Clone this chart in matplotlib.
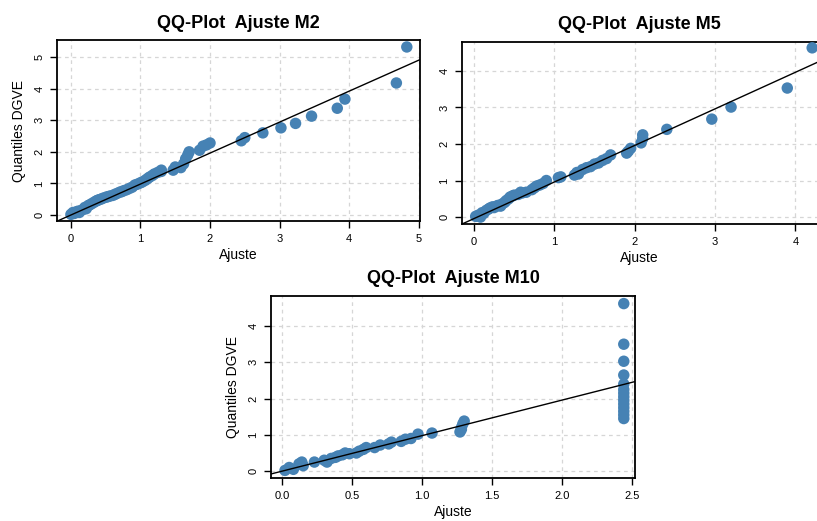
import matplotlib
matplotlib.use("Agg")
import matplotlib.pyplot as plt

plt.rcParams['font.family'] = ['Liberation Sans', 'DejaVu Sans']

# ---- data (x = Ajuste, y = Quantiles DGVE) ----
m2_x = [0.00, 0.03, 0.05, 0.08, 0.10, 0.12, 0.15, 0.18, 0.20, 0.22, 0.25, 0.27,
        0.30, 0.33, 0.36, 0.38, 0.40, 0.43, 0.46, 0.50, 0.53, 0.56, 0.60, 0.63,
        0.66, 0.70, 0.73, 0.76, 0.80, 0.84, 0.88, 0.92, 0.96, 1.00, 1.03, 1.07,
        1.10, 1.13, 1.17, 1.20, 1.25, 1.30, 1.30, 1.47, 1.50, 1.58, 1.62, 1.65,
        1.68, 1.70, 1.85, 1.90, 1.95, 2.00, 2.45, 2.50, 2.76, 3.02, 3.23, 3.46,
        3.83, 3.94, 4.68, 4.83]
m2_y = [0.02, 0.08, 0.05, 0.10, 0.12, 0.08, 0.15, 0.18, 0.24, 0.20, 0.30, 0.32,
        0.36, 0.40, 0.44, 0.46, 0.48, 0.50, 0.53, 0.56, 0.58, 0.60, 0.62, 0.65,
        0.68, 0.72, 0.74, 0.77, 0.80, 0.84, 0.88, 0.95, 0.98, 1.02, 1.05, 1.10,
        1.15, 1.20, 1.25, 1.30, 1.35, 1.38, 1.42, 1.42, 1.52, 1.50, 1.62, 1.78,
        1.90, 2.00, 2.05, 2.18, 2.22, 2.28, 2.35, 2.45, 2.60, 2.76, 2.90, 3.13,
        3.38, 3.67, 4.18, 5.32]

m5_x = [0.02, 0.05, 0.08, 0.10, 0.12, 0.15, 0.18, 0.20, 0.23, 0.25, 0.28, 0.30,
        0.33, 0.35, 0.38, 0.40, 0.43, 0.45, 0.48, 0.50, 0.55, 0.58, 0.60, 0.65,
        0.72, 0.75, 0.78, 0.82, 0.86, 0.90, 1.05, 1.08, 1.25, 1.28, 1.30, 1.35,
        1.40, 1.45, 1.50, 1.55, 1.60, 1.65, 1.70, 1.90, 1.92, 1.95, 2.08, 2.10,
        2.10, 2.40, 2.96, 3.20, 3.90, 4.21]
m5_y = [0.02, 0.05, 0.00, 0.12, 0.10, 0.18, 0.22, 0.25, 0.28, 0.26, 0.30, 0.32,
        0.30, 0.36, 0.40, 0.45, 0.50, 0.55, 0.58, 0.60, 0.62, 0.68, 0.66, 0.68,
        0.75, 0.80, 0.85, 0.88, 0.92, 1.00, 1.08, 1.10, 1.15, 1.22, 1.18, 1.30,
        1.35, 1.38, 1.45, 1.48, 1.55, 1.60, 1.70, 1.75, 1.80, 1.88, 2.03, 2.25,
        2.15, 2.40, 2.68, 3.01, 3.53, 4.63]

m10_x = [0.02, 0.05, 0.08, 0.12, 0.14, 0.15, 0.23, 0.30, 0.32, 0.35, 0.38, 0.40,
         0.43, 0.45, 0.48, 0.53, 0.55, 0.58, 0.60, 0.66, 0.70, 0.76, 0.78, 0.85,
         0.88, 0.92, 0.97, 1.07, 1.27, 1.28, 1.29, 1.30, 1.28,
         2.44, 2.44, 2.44, 2.44, 2.44, 2.44, 2.44, 2.44, 2.44, 2.44, 2.44, 2.44,
         2.44, 2.44]
m10_y = [0.02, 0.10, 0.05, 0.20, 0.25, 0.15, 0.25, 0.30, 0.25, 0.35, 0.38, 0.42,
         0.45, 0.50, 0.48, 0.50, 0.55, 0.60, 0.65, 0.65, 0.72, 0.75, 0.80, 0.82,
         0.88, 0.90, 1.02, 1.05, 1.08, 1.20, 1.30, 1.38, 1.15,
         4.62, 3.50, 3.03, 2.65, 2.40, 2.25, 2.15, 2.05, 1.95, 1.85, 1.75, 1.65,
         1.55, 1.45]

panels = [
    # title, x, y, line (slope, intercept), axes rect, xlim, ylim, xticks, xticklabels, show ylabel
    ("QQ-Plot  Ajuste M2", m2_x, m2_y, (0.98, 0.0), [0.0698, 0.5758, 0.4443, 0.3474],
     (-0.2, 5.02), (-0.19, 5.54), [0, 1, 2, 3, 4, 5], ["0", "1", "2", "3", "4", "5"], True),
    ("QQ-Plot  Ajuste M5", m5_x, m5_y, (1.0, -0.04), [0.5655, 0.5700, 0.4345, 0.3494],
     (-0.15, 4.27), (-0.19, 4.79), [0, 1, 2, 3, 4], ["0", "1", "2", "3", "4"], False),
    ("QQ-Plot  Ajuste M10", m10_x, m10_y, (0.98, 0.0), [0.3317, 0.0825, 0.4455, 0.3494],
     (-0.08, 2.52), (-0.19, 4.83), [0, 0.5, 1, 1.5, 2, 2.5],
     ["0.0", "0.5", "1.0", "1.5", "2.0", "2.5"], True),
]
yticks = [0, 1, 2, 3, 4, 5]

fig = plt.figure(figsize=(8.17, 5.21), dpi=100)

for title, xs, ys, (slope, icpt), rect, xlim, ylim, xt, xtl, ylab in panels:
    ax = fig.add_axes(rect)
    ax.set_xlim(*xlim)
    ax.set_ylim(*ylim)
    ax.grid(True, color='#d6d6d6', linestyle=(0, (3, 3)), linewidth=0.9)
    ax.set_axisbelow(True)
    ax.scatter(xs, ys, s=68, color='#4682b4', edgecolors='none', zorder=3)
    lx = [xlim[0], xlim[1]]
    ax.plot(lx, [slope * v + icpt for v in lx], color='black', linewidth=1.0, zorder=4)

    ax.set_xticks(xt)
    ax.set_xticklabels(xtl)
    yt = [v for v in yticks if v <= ylim[1]]
    ax.set_yticks(yt)
    ax.set_yticklabels([str(v) for v in yt], rotation=90, va='center')
    ax.tick_params(direction='out', length=5, width=1, labelsize=8, pad=4)
    for sp in ax.spines.values():
        sp.set_linewidth(1.3)
    if title.endswith("M5"):
        ax.spines['right'].set_visible(False)

    ax.set_title(title, fontsize=13, fontweight='bold', pad=9)
    ax.set_xlabel("Ajuste", fontsize=10, labelpad=3)
    if ylab:
        ax.set_ylabel("Quantiles DGVE", fontsize=10, labelpad=6)

fig.savefig("out.png", dpi=100)
